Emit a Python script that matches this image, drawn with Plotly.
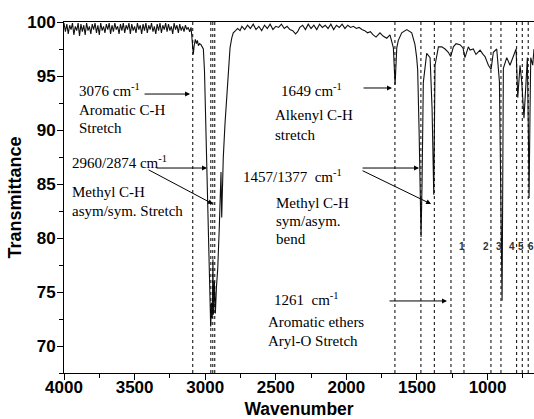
import plotly.graph_objects as go

# ---------------- data ----------------
wavenumber = [
    4000, 3990, 3980, 3970, 3960, 3950, 3940, 3930, 3920, 3910, 3900, 3890, 3880, 3870,
    3860, 3850, 3840, 3830, 3820, 3810, 3800, 3790, 3780, 3770, 3760, 3750, 3740, 3730,
    3720, 3710, 3700, 3690, 3680, 3670, 3660, 3650, 3640, 3630, 3620, 3610, 3600, 3590,
    3580, 3570, 3560, 3550, 3540, 3530, 3520, 3510, 3500, 3490, 3480, 3470, 3460, 3450,
    3440, 3430, 3420, 3410, 3400, 3390, 3380, 3370, 3360, 3350, 3340, 3330, 3320, 3310,
    3300, 3290, 3280, 3270, 3260, 3250, 3240, 3230, 3220, 3210, 3200, 3190, 3180, 3170,
    3160, 3150, 3140, 3130, 3120, 3110,
    3100, 3092, 3084, 3078, 3070, 3062, 3055, 3048, 3040, 3030,
    3020, 3013, 3005, 2995, 2985, 2975, 2968, 2961, 2955, 2950, 2945, 2942, 2935, 2928,
    2920, 2911, 2900, 2893, 2888, 2883, 2878, 2872, 2860, 2847, 2835, 2824, 2812, 2801,
    2785, 2770, 2753, 2740, 2720, 2700, 2680, 2660, 2640, 2620, 2600, 2580, 2560, 2540,
    2520, 2500, 2480, 2460, 2440, 2420, 2400, 2380, 2360, 2345, 2330, 2310, 2290, 2270,
    2250, 2230, 2210, 2190, 2170, 2150, 2130, 2110, 2090, 2070, 2050, 2030, 2010, 1990,
    1970, 1950, 1930, 1910, 1890, 1870, 1850, 1830, 1810, 1790, 1762, 1740, 1714, 1691,
    1667, 1655, 1643, 1632, 1608, 1572, 1537, 1514, 1502, 1495, 1485, 1476, 1471, 1464,
    1455, 1431, 1407, 1393, 1381, 1372, 1348, 1324, 1301, 1278, 1261, 1242, 1223, 1195,
    1174, 1160, 1136, 1124, 1101, 1082, 1053, 1032, 1018, 994, 975, 959, 935, 916,
    904, 897, 888, 864, 841, 817, 798, 786, 777, 770, 758, 749, 742, 727,
    718, 711, 706, 699, 694, 680, 671,
]
transmittance = [
    99.9, 99.1, 99.8, 98.9, 99.7, 99.3, 99.9, 98.8, 99.6, 99.2, 99.9, 98.7, 99.8, 99.1,
    99.7, 98.8, 99.9, 99.2, 99.6, 98.9, 99.8, 99.3, 99.9, 99.0, 99.7, 98.8, 99.9, 99.2,
    99.6, 99.0, 99.8, 99.3, 99.9, 98.9, 99.7, 99.1, 99.9, 99.3, 99.6, 98.9, 99.8, 99.2,
    99.9, 99.0, 99.7, 99.3, 99.9, 98.9, 99.8, 99.2, 99.6, 99.0, 99.9, 99.3, 99.7, 98.9,
    99.8, 99.2, 99.9, 99.0, 99.7, 99.3, 99.9, 99.1, 99.6, 98.9, 99.8, 99.2, 99.9, 99.0,
    99.7, 99.3, 99.9, 99.1, 99.8, 99.2, 99.6, 98.9, 99.9, 99.3, 99.7, 99.0, 99.8, 99.2,
    99.6, 99.1, 99.7, 99.3, 99.5, 99.1,
    99.5, 98.2, 97.0, 97.8, 98.4, 98.0, 98.3, 97.8, 98.0, 97.9,
    97.7, 97.5, 95.5, 90.0, 82.1, 77.0, 73.5, 71.8, 74.0, 72.6, 78.0, 72.9, 76.0, 73.0,
    75.5, 77.2, 81.0, 85.8, 86.1, 81.9, 86.5, 87.4, 90.5, 93.5, 96.0, 97.6, 98.5, 99.0,
    99.2, 99.4, 99.2, 99.6, 99.3, 99.7, 99.4, 99.8, 99.3, 99.6, 99.2, 99.7, 99.4, 99.8,
    99.3, 99.6, 99.5, 99.8, 99.4, 99.6, 99.3, 99.2, 98.9, 99.1, 99.5, 99.7, 99.3, 99.8,
    99.4, 99.7, 99.3, 99.8, 99.5, 99.7, 99.4, 99.8, 99.3, 99.7, 99.5, 99.8, 99.4, 99.7,
    99.5, 99.6, 99.4, 99.5, 99.3, 99.2, 99.0, 99.1, 98.8, 98.6, 99.0, 98.7, 98.5, 98.8,
    97.6, 94.2, 97.6, 98.3, 99.0, 99.3, 99.0, 97.9, 96.7, 95.6, 90.0, 85.2, 80.1, 85.0,
    94.4, 97.1, 96.7, 92.0, 84.0, 96.0, 97.7, 97.7, 97.5, 97.2, 96.8, 97.7, 98.0, 97.9,
    97.6, 96.7, 97.7, 97.4, 97.5, 97.0, 97.4, 97.0, 96.8, 96.0, 95.6, 97.2, 97.5, 94.5,
    80.0, 74.2, 95.7, 96.7, 96.0, 96.9, 97.5, 93.0, 95.5, 96.0, 94.5, 92.0, 91.1, 94.5,
    96.7, 90.0, 83.7, 92.0, 96.7, 96.0, 97.5,
]

# dotted marker lines (wavenumbers)
marker_lines = [3088, 2960, 2946, 2932, 1656, 1472, 1377, 1259, 1167, 976, 905, 794, 754, 712]

# numbered bands
band_labels = ["1", "2", "3", "4", "5", "6"]
band_label_wn = [1182, 1011, 922, 830, 763, 690]

x_ticks = [4000, 3500, 3000, 2500, 2000, 1500, 1000]
y_ticks = [70, 75, 80, 85, 90, 95, 100]

# ---------------- figure ----------------
fig = go.Figure()
fig.add_trace(go.Scatter(
    x=wavenumber, y=transmittance, mode="lines",
    line=dict(color="#111111", width=1.1), showlegend=False, hoverinfo="skip",
))

for w in marker_lines:
    fig.add_shape(type="line", xref="x", yref="y", x0=w, x1=w, y0=67.5, y1=100,
                  line=dict(color="black", width=1, dash="dot"), layer="above")

serif = dict(family="Liberation Serif, Times New Roman, serif", size=15, color="black")

def text(xv, yv, s):
    fig.add_annotation(x=xv, y=yv, xref="x", yref="y", text=s, showarrow=False,
                       xanchor="left", yanchor="middle", font=serif)

def arrow(x_tail, y_tail, x_head, y_head):
    fig.add_annotation(x=x_head, y=y_head, ax=x_tail, ay=y_tail,
                       xref="x", yref="y", axref="x", ayref="y", text="",
                       showarrow=True, arrowhead=2, arrowsize=1, arrowwidth=1,
                       arrowcolor="black")

sup = "cm<sup>-1</sup>"
text(3908, 93.7, "3076 " + sup)
text(3908, 91.85, "Aromatic C-H")
text(3908, 90.19, "Stretch")
text(3957, 87.04, "2960/2874 " + sup)
text(3957, 84.26, "Methyl C-H")
text(3957, 82.5, "asym/sym. Stretch")
text(2477, 93.7, "1649 " + sup)
text(2520, 91.39, "Alkenyl C-H")
text(2520, 89.54, "stretch")
text(2748, 85.74, "1457/1377 &nbsp;" + sup)
text(2513, 83.26, "Methyl C-H")
text(2513, 81.57, "sym/asym.")
text(2513, 79.9, "bend")
text(2527, 74.35, "1261 &nbsp;" + sup)
text(2569, 72.22, "Aromatic ethers")
text(2569, 70.46, "Aryl-O Stretch")

arrow(3440, 93.33, 3107, 93.33)
arrow(3355, 86.48, 2987, 86.48)
arrow(3412, 86.39, 2945, 83.15)
arrow(1889, 93.89, 1677, 93.89)
arrow(1896, 86.48, 1485, 86.48)
arrow(1896, 86.3, 1400, 83.15)
arrow(1705, 74.17, 1287, 74.17)

for lab, w in zip(band_labels, band_label_wn):
    fig.add_annotation(x=w, y=79.17, xref="x", yref="y", text="<b>" + lab + "</b>",
                       showarrow=False, xanchor="center", yanchor="middle",
                       font=dict(family="Liberation Sans, Arial", size=10, color="#333333"))

axis_font = dict(family="Liberation Sans, Arial, sans-serif", size=17, color="black")
fig.update_layout(
    width=534, height=419,
    margin=dict(l=64, r=0, t=22, b=46, autoexpand=False),
    paper_bgcolor="white", plot_bgcolor="white",
    xaxis=dict(
        range=[4000, 671], tickvals=x_ticks, ticktext=["<b>%d</b>" % v for v in x_ticks],
        ticks="outside", ticklen=6, tickwidth=1, tickcolor="black",
        ticklabelstandoff=-7,
        minor=dict(dtick=250, tick0=4000, ticks="outside", ticklen=4, tickcolor="black"),
        showline=True, linecolor="black", linewidth=1, mirror=True,
        showgrid=False, zeroline=False, tickfont=axis_font, automargin=False,
        title=dict(text="<b>Wavenumber</b>", font=dict(family="Liberation Sans, Arial", size=17.5, color="black"), standoff=9),
    ),
    yaxis=dict(
        range=[67.5, 100], tickvals=y_ticks, ticktext=["<b>%d</b>" % v for v in y_ticks],
        ticks="outside", ticklen=6, tickwidth=1, tickcolor="black",
        ticklabelstandoff=-2,
        minor=dict(dtick=2.5, tick0=70, ticks="outside", ticklen=4, tickcolor="black"),
        showline=True, linecolor="black", linewidth=1, mirror=False,
        showgrid=False, zeroline=False, tickfont=axis_font, automargin=False,
        title=dict(text="<b>Transmittance</b>", font=dict(family="Liberation Sans, Arial", size=18, color="black"), standoff=0),
    ),
)

fig.write_html(
    "out.html",
    config={"displayModeBar": False},
    post_script="document.body.style.margin='0';document.body.style.overflow='hidden';",
)
